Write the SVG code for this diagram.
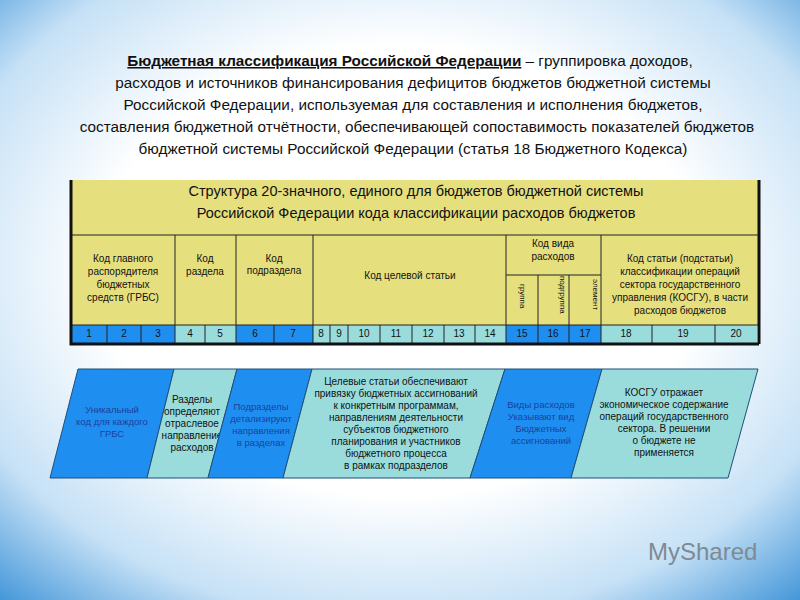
<svg xmlns="http://www.w3.org/2000/svg" width="800" height="600" viewBox="0 0 800 600">
<defs>
<radialGradient id="bg" cx="0.5" cy="0.45" r="0.75">
<stop offset="0.5" stop-color="#ffffff"/><stop offset="0.78" stop-color="#c6e1f6"/><stop offset="1" stop-color="#3f94d8"/>
</radialGradient>
<style>
text{font-family:"Liberation Sans",Arial,sans-serif;fill:#111}
.t{font-size:15.3px;text-anchor:middle}
.h{font-size:14.5px;text-anchor:middle}
.s{font-size:10px;text-anchor:middle}
.n{font-size:10px;text-anchor:middle}
.b{font-size:9.5px;text-anchor:middle;fill:#1d3f9c}
.y{fill:#e6df7e}
.dk{fill:#1e8ff0}
.lt{fill:#9adcdc}
.ln{stroke:#222;stroke-width:1;fill:none}
.pd{stroke:#1f4f7a;stroke-width:1}
</style>
</defs>
<rect width="800" height="600" fill="url(#bg)"/>
<g id="title">
<text class="t" x="410" y="66"><tspan font-weight="bold" text-decoration="underline">Бюджетная классификация Российской Федерации</tspan> – группировка доходов,</text>
<text class="t" x="413" y="88">расходов и источников финансирования дефицитов бюджетов бюджетной системы</text>
<text class="t" x="413" y="110">Российской Федерации, используемая для составления и исполнения бюджетов,</text>
<text class="t" x="417" y="132">составления бюджетной отчётности, обеспечивающей сопоставимость показателей бюджетов</text>
<text class="t" x="413" y="154">бюджетной системы Российской Федерации (статья 18 Бюджетного Кодекса)</text>
</g>
<g id="table">
<rect class="y" x="71" y="180" width="688" height="145"/>
<text class="h" x="416" y="196">Структура 20-значного, единого для бюджетов бюджетной системы</text>
<text class="h" x="416" y="218">Российской Федерации кода классификации расходов бюджетов</text>
<rect class="dk" x="72" y="325" width="103" height="18"/>
<rect class="lt" x="175" y="325" width="61" height="18"/>
<rect class="dk" x="236" y="325" width="77" height="18"/>
<rect class="lt" x="313" y="325" width="193" height="18"/>
<rect class="dk" x="506" y="325" width="95" height="18"/>
<rect class="lt" x="601" y="325" width="156" height="18"/>
<path class="ln" d="M72 235H759M506 275H601M72 325H759M175 235V343M236 235V343M313 235V343M506 235V343M601 235V343M538 275V343M569 275V343M107 325V343M141 325V343M205 325V343M274 325V343M330 325V343M348 325V343M380 325V343M412 325V343M444 325V343M475 325V343M652 325V343M715 325V343"/>
<path d="M71 180V344H759M759 180V344" stroke="#111" stroke-width="3" fill="none"/>
<text class="s" x="123" y="262">Код главного</text>
<text class="s" x="123" y="275">распорядителя</text>
<text class="s" x="123" y="288">бюджетных</text>
<text class="s" x="123" y="301">средств (ГРБС)</text>
<text class="s" x="205" y="262">Код</text>
<text class="s" x="205" y="275">раздела</text>
<text class="s" x="274" y="262">Код</text>
<text class="s" x="274" y="274">подраздела</text>
<text class="s" x="410" y="279">Код целевой статьи</text>
<text class="s" x="553" y="247">Код вида</text>
<text class="s" x="553" y="260">расходов</text>
<text class="s" x="680" y="262">Код статьи (подстатьи)</text>
<text class="s" x="680" y="275">классификации операций</text>
<text class="s" x="680" y="288">сектора государственного</text>
<text class="s" x="680" y="301">управления (КОСГУ), в части</text>
<text class="s" x="680" y="314">расходов бюджетов</text>
<text font-size="8" transform="translate(520,284) rotate(90)">группа</text>
<text font-size="8" transform="translate(560,276) rotate(90)">подгруппа</text>
<text font-size="8" transform="translate(593,279) rotate(90)">элемент</text>
<g class="n">
<text x="89" y="337" fill="#333">1</text><text x="124" y="337">2</text><text x="158" y="337">3</text>
<text x="190" y="337">4</text><text x="220" y="337">5</text><text x="255" y="337">6</text><text x="293" y="337">7</text>
<text x="321" y="337">8</text><text x="339" y="337">9</text><text x="364" y="337">10</text><text x="396" y="337">11</text>
<text x="428" y="337">12</text><text x="459" y="337">13</text><text x="490" y="337">14</text>
<text x="522" y="337">15</text><text x="553" y="337">16</text><text x="585" y="337">17</text>
<text x="626" y="337">18</text><text x="683" y="337">19</text><text x="736" y="337">20</text>
</g>
</g>
<g id="p1"><polygon class="dk pd" points="78,369 174,369 147,478 50,478"/>
<text class="b" x="112" y="413">Уникальный</text><text class="b" x="112" y="425">код для каждого</text><text class="b" x="112" y="437">ГРБС</text></g>
<g id="p2"><polygon class="lt pd" points="174,369 237,369 208,478 147,478"/>
<text class="s" x="192" y="403">Разделы</text><text class="s" x="192" y="415">определяют</text><text class="s" x="192" y="427">отраслевое</text><text class="s" x="192" y="439">направление</text><text class="s" x="192" y="451">расходов</text></g>
<g id="p3"><polygon class="dk pd" points="237,369 312,369 283,478 208,478"/>
<text class="b" x="261" y="410">Подразделы</text><text class="b" x="261" y="422">детализируют</text><text class="b" x="261" y="434">направления</text><text class="b" x="261" y="446">в разделах</text></g>
<g id="p4"><polygon class="lt pd" points="312,369 505,369 470,478 283,478"/>
<text class="s" x="396" y="385">Целевые статьи обеспечивают</text><text class="s" x="396" y="397">привязку бюджетных ассигнований</text><text class="s" x="396" y="409">к конкретным программам,</text><text class="s" x="396" y="421">направлениям деятельности</text><text class="s" x="396" y="433">субъектов бюджетного</text><text class="s" x="396" y="445">планирования и участников</text><text class="s" x="396" y="457">бюджетного процесса</text><text class="s" x="396" y="469">в рамках подразделов</text></g>
<g id="p5"><polygon class="dk pd" points="505,369 602,369 571,478 470,478"/>
<text class="b" x="541" y="408">Виды расходов</text><text class="b" x="541" y="420">Указывают вид</text><text class="b" x="541" y="432">Бюджетных</text><text class="b" x="541" y="444">ассигнований</text></g>
<g id="p6"><polygon class="lt pd" points="602,369 758,369 728,478 571,478"/>
<text class="s" x="664" y="396">КОСГУ отражает</text><text class="s" x="664" y="408">экономическое содержание</text><text class="s" x="664" y="420">операций государственного</text><text class="s" x="664" y="432">сектора. В решении</text><text class="s" x="664" y="444">о бюджете не</text><text class="s" x="664" y="456">применяется</text></g>
<g id="logo"><text x="648" y="560" font-size="24" style="fill:#7f8a94">MyShared</text></g>
</svg>
